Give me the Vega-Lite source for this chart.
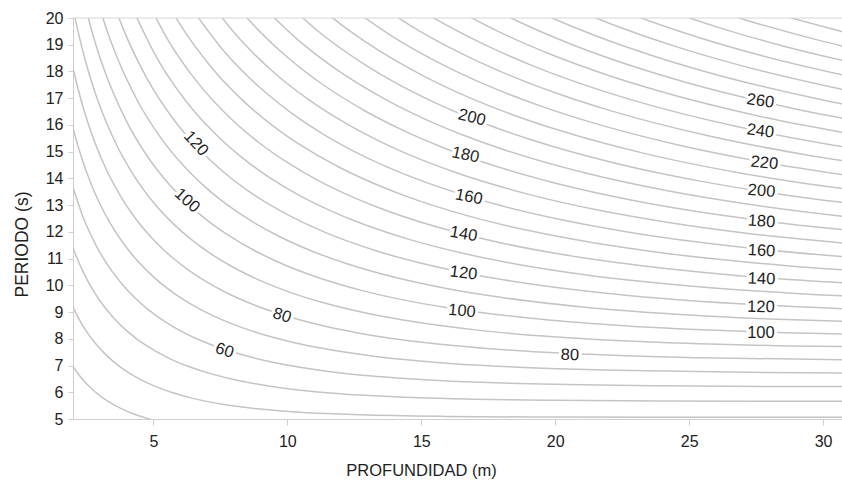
{
"$schema": "https://vega.github.io/schema/vega-lite/v6.json",
"width": 769, "height": 401,
"autosize": {"type": "none"},
"padding": {"left": 73, "top": 18, "right": 0, "bottom": 66},
"background": "white",
"config": {"font": "Liberation Sans", "view": {"stroke": null}},
"datasets": {
"curvas": [
{"L":30,"prof":1.910,"per":7.111},{"L":30,"prof":2.149,"per":6.749},{"L":30,"prof":2.387,"per":6.448},{"L":30,"prof":2.626,"per":6.196},{"L":30,"prof":2.865,"per":5.982},{"L":30,"prof":3.342,"per":5.638},{"L":30,"prof":3.820,"per":5.379},{"L":30,"prof":4.297,"per":5.180},{"L":30,"prof":4.775,"per":5.023},{"L":30,"prof":5.730,"per":4.801},
{"L":40,"prof":1.910,"per":9.378},{"L":40,"prof":2.228,"per":8.727},{"L":40,"prof":2.546,"per":8.211},{"L":40,"prof":2.865,"per":7.793},{"L":40,"prof":3.183,"per":7.446},{"L":40,"prof":3.501,"per":7.155},{"L":40,"prof":3.820,"per":6.907},{"L":40,"prof":4.456,"per":6.511},{"L":40,"prof":5.093,"per":6.212},{"L":40,"prof":5.730,"per":5.981},{"L":40,"prof":6.366,"per":5.800},{"L":40,"prof":7.639,"per":5.543},{"L":40,"prof":8.913,"per":5.379},{"L":40,"prof":10.186,"per":5.272},{"L":40,"prof":11.459,"per":5.202},{"L":40,"prof":12.732,"per":5.155},{"L":40,"prof":15.916,"per":5.096},{"L":40,"prof":19.099,"per":5.074},{"L":40,"prof":25.465,"per":5.063},{"L":40,"prof":41.380,"per":5.062},
{"L":50,"prof":1.592,"per":12.738},{"L":50,"prof":1.989,"per":11.435},{"L":50,"prof":2.387,"per":10.485},{"L":50,"prof":2.785,"per":9.757},{"L":50,"prof":3.183,"per":9.181},{"L":50,"prof":3.581,"per":8.713},{"L":50,"prof":3.979,"per":8.324},{"L":50,"prof":4.377,"per":7.999},{"L":50,"prof":4.775,"per":7.722},{"L":50,"prof":5.570,"per":7.279},{"L":50,"prof":6.366,"per":6.945},{"L":50,"prof":7.162,"per":6.687},{"L":50,"prof":7.958,"per":6.485},{"L":50,"prof":9.549,"per":6.198},{"L":50,"prof":11.141,"per":6.014},{"L":50,"prof":12.732,"per":5.894},{"L":50,"prof":14.324,"per":5.816},{"L":50,"prof":15.915,"per":5.764},{"L":50,"prof":19.894,"per":5.697},{"L":50,"prof":23.873,"per":5.673},{"L":50,"prof":31.831,"per":5.661},
{"L":60,"prof":1.910,"per":13.954},{"L":60,"prof":2.387,"per":12.526},{"L":60,"prof":2.865,"per":11.486},{"L":60,"prof":3.342,"per":10.688},{"L":60,"prof":3.820,"per":10.057},{"L":60,"prof":4.297,"per":9.544},{"L":60,"prof":4.775,"per":9.119},{"L":60,"prof":5.252,"per":8.762},{"L":60,"prof":5.730,"per":8.459},{"L":60,"prof":6.685,"per":7.974},{"L":60,"prof":7.639,"per":7.607},{"L":60,"prof":8.594,"per":7.325},{"L":60,"prof":9.549,"per":7.104},{"L":60,"prof":11.459,"per":6.789},{"L":60,"prof":13.369,"per":6.588},{"L":60,"prof":15.279,"per":6.457},{"L":60,"prof":17.189,"per":6.371},{"L":60,"prof":19.099,"per":6.314},{"L":60,"prof":23.873,"per":6.241},{"L":60,"prof":28.648,"per":6.215},{"L":60,"prof":38.197,"per":6.201},
{"L":70,"prof":1.783,"per":16.810},{"L":70,"prof":2.005,"per":15.867},{"L":70,"prof":2.228,"per":15.072},{"L":70,"prof":2.785,"per":13.530},{"L":70,"prof":3.342,"per":12.406},{"L":70,"prof":3.899,"per":11.545},{"L":70,"prof":4.456,"per":10.862},{"L":70,"prof":5.013,"per":10.309},{"L":70,"prof":5.570,"per":9.849},{"L":70,"prof":6.128,"per":9.465},{"L":70,"prof":6.685,"per":9.137},{"L":70,"prof":7.799,"per":8.613},{"L":70,"prof":8.913,"per":8.217},{"L":70,"prof":10.027,"per":7.912},{"L":70,"prof":11.141,"per":7.673},{"L":70,"prof":13.369,"per":7.333},{"L":70,"prof":15.597,"per":7.116},{"L":70,"prof":17.825,"per":6.974},{"L":70,"prof":20.053,"per":6.881},{"L":70,"prof":22.282,"per":6.820},{"L":70,"prof":27.852,"per":6.741},{"L":70,"prof":33.422,"per":6.713},
{"L":80,"prof":1.783,"per":19.193},{"L":80,"prof":2.037,"per":17.971},{"L":80,"prof":2.292,"per":16.963},{"L":80,"prof":2.546,"per":16.112},{"L":80,"prof":3.183,"per":14.464},{"L":80,"prof":3.820,"per":13.263},{"L":80,"prof":4.456,"per":12.342},{"L":80,"prof":5.093,"per":11.613},{"L":80,"prof":5.730,"per":11.021},{"L":80,"prof":6.366,"per":10.530},{"L":80,"prof":7.003,"per":10.118},{"L":80,"prof":7.639,"per":9.768},{"L":80,"prof":8.913,"per":9.207},{"L":80,"prof":10.186,"per":8.785},{"L":80,"prof":11.459,"per":8.458},{"L":80,"prof":12.732,"per":8.202},{"L":80,"prof":15.279,"per":7.840},{"L":80,"prof":17.825,"per":7.608},{"L":80,"prof":20.372,"per":7.456},{"L":80,"prof":22.918,"per":7.356},{"L":80,"prof":25.465,"per":7.290},{"L":80,"prof":31.831,"per":7.207},
{"L":90,"prof":1.719,"per":21.970},{"L":90,"prof":2.005,"per":20.357},{"L":90,"prof":2.292,"per":19.061},{"L":90,"prof":2.578,"per":17.991},{"L":90,"prof":2.865,"per":17.090},{"L":90,"prof":3.581,"per":15.341},{"L":90,"prof":4.297,"per":14.067},{"L":90,"prof":5.013,"per":13.091},{"L":90,"prof":5.730,"per":12.317},{"L":90,"prof":6.446,"per":11.689},{"L":90,"prof":7.162,"per":11.168},{"L":90,"prof":7.878,"per":10.732},{"L":90,"prof":8.594,"per":10.360},{"L":90,"prof":10.027,"per":9.766},{"L":90,"prof":11.459,"per":9.317},{"L":90,"prof":12.892,"per":8.971},{"L":90,"prof":14.324,"per":8.700},{"L":90,"prof":17.189,"per":8.315},{"L":90,"prof":20.053,"per":8.069},{"L":90,"prof":22.918,"per":7.908},{"L":90,"prof":25.783,"per":7.803},{"L":90,"prof":28.648,"per":7.733},{"L":90,"prof":35.810,"per":7.644},
{"L":100,"prof":2.228,"per":21.458},{"L":100,"prof":2.546,"per":20.092},{"L":100,"prof":2.865,"per":18.965},{"L":100,"prof":3.183,"per":18.014},{"L":100,"prof":3.979,"per":16.171},{"L":100,"prof":4.775,"per":14.828},{"L":100,"prof":5.570,"per":13.799},{"L":100,"prof":6.366,"per":12.983},{"L":100,"prof":7.162,"per":12.321},{"L":100,"prof":7.958,"per":11.772},{"L":100,"prof":8.754,"per":11.312},{"L":100,"prof":9.549,"per":10.921},{"L":100,"prof":11.141,"per":10.294},{"L":100,"prof":12.732,"per":9.821},{"L":100,"prof":14.324,"per":9.456},{"L":100,"prof":15.916,"per":9.171},{"L":100,"prof":19.099,"per":8.765},{"L":100,"prof":22.282,"per":8.506},{"L":100,"prof":25.465,"per":8.336},{"L":100,"prof":28.648,"per":8.225},{"L":100,"prof":31.831,"per":8.151},
{"L":110,"prof":2.801,"per":21.073},{"L":110,"prof":3.151,"per":19.890},{"L":110,"prof":3.501,"per":18.893},{"L":110,"prof":4.377,"per":16.960},{"L":110,"prof":5.252,"per":15.552},{"L":110,"prof":6.127,"per":14.472},{"L":110,"prof":7.003,"per":13.617},{"L":110,"prof":7.878,"per":12.923},{"L":110,"prof":8.754,"per":12.347},{"L":110,"prof":9.629,"per":11.864},{"L":110,"prof":10.504,"per":11.454},{"L":110,"prof":12.255,"per":10.797},{"L":110,"prof":14.006,"per":10.301},{"L":110,"prof":15.756,"per":9.918},{"L":110,"prof":17.507,"per":9.618},{"L":110,"prof":21.008,"per":9.193},{"L":110,"prof":24.510,"per":8.921},{"L":110,"prof":28.011,"per":8.743},{"L":110,"prof":31.513,"per":8.626},
{"L":120,"prof":3.438,"per":20.775},{"L":120,"prof":3.820,"per":19.733},{"L":120,"prof":4.775,"per":17.714},{"L":120,"prof":5.730,"per":16.243},{"L":120,"prof":6.685,"per":15.116},{"L":120,"prof":7.639,"per":14.222},{"L":120,"prof":8.594,"per":13.497},{"L":120,"prof":9.549,"per":12.896},{"L":120,"prof":10.504,"per":12.392},{"L":120,"prof":11.459,"per":11.963},{"L":120,"prof":13.369,"per":11.277},{"L":120,"prof":15.279,"per":10.759},{"L":120,"prof":17.189,"per":10.359},{"L":120,"prof":19.099,"per":10.046},{"L":120,"prof":22.918,"per":9.601},{"L":120,"prof":26.738,"per":9.317},{"L":120,"prof":30.558,"per":9.132},{"L":120,"prof":34.377,"per":9.010},
{"L":130,"prof":4.138,"per":20.539},{"L":130,"prof":5.173,"per":18.438},{"L":130,"prof":6.207,"per":16.907},{"L":130,"prof":7.242,"per":15.733},{"L":130,"prof":8.276,"per":14.803},{"L":130,"prof":9.311,"per":14.049},{"L":130,"prof":10.345,"per":13.423},{"L":130,"prof":11.380,"per":12.898},{"L":130,"prof":12.414,"per":12.452},{"L":130,"prof":14.483,"per":11.737},{"L":130,"prof":16.552,"per":11.198},{"L":130,"prof":18.621,"per":10.782},{"L":130,"prof":20.690,"per":10.456},{"L":130,"prof":24.828,"per":9.993},{"L":130,"prof":28.966,"per":9.698},{"L":130,"prof":33.104,"per":9.505},
{"L":140,"prof":4.456,"per":21.314},{"L":140,"prof":5.570,"per":19.134},{"L":140,"prof":6.685,"per":17.545},{"L":140,"prof":7.799,"per":16.327},{"L":140,"prof":8.913,"per":15.362},{"L":140,"prof":10.027,"per":14.579},{"L":140,"prof":11.141,"per":13.929},{"L":140,"prof":12.255,"per":13.385},{"L":140,"prof":13.369,"per":12.922},{"L":140,"prof":15.597,"per":12.180},{"L":140,"prof":17.825,"per":11.621},{"L":140,"prof":20.054,"per":11.189},{"L":140,"prof":22.282,"per":10.851},{"L":140,"prof":26.738,"per":10.371},{"L":140,"prof":31.194,"per":10.064},
{"L":150,"prof":4.775,"per":22.062},{"L":150,"prof":5.968,"per":19.805},{"L":150,"prof":7.162,"per":18.161},{"L":150,"prof":8.356,"per":16.900},{"L":150,"prof":9.549,"per":15.901},{"L":150,"prof":10.743,"per":15.091},{"L":150,"prof":11.937,"per":14.418},{"L":150,"prof":13.130,"per":13.855},{"L":150,"prof":14.324,"per":13.375},{"L":150,"prof":16.711,"per":12.608},{"L":150,"prof":19.099,"per":12.029},{"L":150,"prof":21.486,"per":11.582},{"L":150,"prof":23.873,"per":11.232},{"L":150,"prof":28.648,"per":10.735},{"L":150,"prof":33.422,"per":10.417},
{"L":160,"prof":6.366,"per":20.455},{"L":160,"prof":7.639,"per":18.756},{"L":160,"prof":8.913,"per":17.454},{"L":160,"prof":10.186,"per":16.423},{"L":160,"prof":11.459,"per":15.585},{"L":160,"prof":12.732,"per":14.891},{"L":160,"prof":14.006,"per":14.309},{"L":160,"prof":15.279,"per":13.814},{"L":160,"prof":17.825,"per":13.021},{"L":160,"prof":20.372,"per":12.423},{"L":160,"prof":22.918,"per":11.961},{"L":160,"prof":25.465,"per":11.600},{"L":160,"prof":30.558,"per":11.087},{"L":160,"prof":35.651,"per":10.759},
{"L":170,"prof":6.764,"per":21.084},{"L":170,"prof":8.117,"per":19.333},{"L":170,"prof":9.470,"per":17.991},{"L":170,"prof":10.823,"per":16.928},{"L":170,"prof":12.175,"per":16.065},{"L":170,"prof":13.528,"per":15.349},{"L":170,"prof":14.881,"per":14.749},{"L":170,"prof":16.234,"per":14.239},{"L":170,"prof":18.939,"per":13.422},{"L":170,"prof":21.645,"per":12.805},{"L":170,"prof":24.351,"per":12.330},{"L":170,"prof":27.056,"per":11.957},{"L":170,"prof":32.468,"per":11.428},
{"L":180,"prof":7.162,"per":21.696},{"L":180,"prof":8.594,"per":19.894},{"L":180,"prof":10.027,"per":18.513},{"L":180,"prof":11.459,"per":17.419},{"L":180,"prof":12.892,"per":16.531},{"L":180,"prof":14.324,"per":15.794},{"L":180,"prof":15.756,"per":15.177},{"L":180,"prof":17.189,"per":14.652},{"L":180,"prof":20.054,"per":13.811},{"L":180,"prof":22.918,"per":13.177},{"L":180,"prof":25.783,"per":12.687},{"L":180,"prof":28.648,"per":12.304},{"L":180,"prof":34.377,"per":11.759},
{"L":190,"prof":9.072,"per":20.439},{"L":190,"prof":10.584,"per":19.020},{"L":190,"prof":12.096,"per":17.896},{"L":190,"prof":13.608,"per":16.984},{"L":190,"prof":15.120,"per":16.227},{"L":190,"prof":16.632,"per":15.593},{"L":190,"prof":18.144,"per":15.053},{"L":190,"prof":21.168,"per":14.190},{"L":190,"prof":24.192,"per":13.538},{"L":190,"prof":27.215,"per":13.035},{"L":190,"prof":30.239,"per":12.641},{"L":190,"prof":36.287,"per":12.082},
{"L":200,"prof":9.549,"per":20.970},{"L":200,"prof":11.141,"per":19.514},{"L":200,"prof":12.732,"per":18.361},{"L":200,"prof":14.324,"per":17.425},{"L":200,"prof":15.916,"per":16.649},{"L":200,"prof":17.507,"per":15.998},{"L":200,"prof":19.099,"per":15.444},{"L":200,"prof":22.282,"per":14.558},{"L":200,"prof":25.465,"per":13.889},{"L":200,"prof":28.648,"per":13.373},{"L":200,"prof":31.831,"per":12.969},
{"L":210,"prof":10.027,"per":21.488},{"L":210,"prof":11.698,"per":19.997},{"L":210,"prof":13.369,"per":18.815},{"L":210,"prof":15.040,"per":17.856},{"L":210,"prof":16.711,"per":17.060},{"L":210,"prof":18.382,"per":16.393},{"L":210,"prof":20.054,"per":15.826},{"L":210,"prof":23.396,"per":14.918},{"L":210,"prof":26.738,"per":14.233},{"L":210,"prof":30.080,"per":13.704},{"L":210,"prof":33.423,"per":13.290},
{"L":220,"prof":12.255,"per":20.467},{"L":220,"prof":14.006,"per":19.257},{"L":220,"prof":15.756,"per":18.276},{"L":220,"prof":17.507,"per":17.461},{"L":220,"prof":19.258,"per":16.779},{"L":220,"prof":21.008,"per":16.198},{"L":220,"prof":24.510,"per":15.269},{"L":220,"prof":28.011,"per":14.567},{"L":220,"prof":31.513,"per":14.026},
{"L":230,"prof":12.812,"per":20.927},{"L":230,"prof":14.642,"per":19.690},{"L":230,"prof":16.473,"per":18.687},{"L":230,"prof":18.303,"per":17.854},{"L":230,"prof":20.133,"per":17.156},{"L":230,"prof":21.963,"per":16.563},{"L":230,"prof":25.624,"per":15.612},{"L":230,"prof":29.284,"per":14.895},{"L":230,"prof":32.945,"per":14.341},
{"L":240,"prof":13.369,"per":21.377},{"L":240,"prof":15.279,"per":20.114},{"L":240,"prof":17.189,"per":19.088},{"L":240,"prof":19.099,"per":18.238},{"L":240,"prof":21.008,"per":17.525},{"L":240,"prof":22.918,"per":16.919},{"L":240,"prof":26.738,"per":15.948},{"L":240,"prof":30.558,"per":15.215},{"L":240,"prof":34.377,"per":14.650},
{"L":250,"prof":15.915,"per":20.528},{"L":250,"prof":17.905,"per":19.482},{"L":250,"prof":19.894,"per":18.614},{"L":250,"prof":21.884,"per":17.886},{"L":250,"prof":23.873,"per":17.268},{"L":250,"prof":27.852,"per":16.277},{"L":250,"prof":31.831,"per":15.529},
{"L":260,"prof":16.552,"per":20.935},{"L":260,"prof":18.621,"per":19.868},{"L":260,"prof":20.690,"per":18.982},{"L":260,"prof":22.759,"per":18.241},{"L":260,"prof":24.828,"per":17.609},{"L":260,"prof":28.966,"per":16.599},{"L":260,"prof":33.104,"per":15.836},
{"L":270,"prof":17.189,"per":21.334},{"L":270,"prof":19.337,"per":20.246},{"L":270,"prof":21.486,"per":19.344},{"L":270,"prof":23.634,"per":18.588},{"L":270,"prof":25.783,"per":17.945},{"L":270,"prof":30.080,"per":16.915},{"L":270,"prof":34.377,"per":16.138},
{"L":280,"prof":20.054,"per":20.618},{"L":280,"prof":22.282,"per":19.699},{"L":280,"prof":24.510,"per":18.929},{"L":280,"prof":26.738,"per":18.274},{"L":280,"prof":31.194,"per":17.226},
{"L":290,"prof":20.770,"per":20.983},{"L":290,"prof":23.077,"per":20.048},{"L":290,"prof":25.385,"per":19.264},{"L":290,"prof":27.693,"per":18.598},{"L":290,"prof":32.308,"per":17.530},
{"L":300,"prof":23.873,"per":20.390},{"L":300,"prof":26.261,"per":19.594},{"L":300,"prof":28.648,"per":18.916},{"L":300,"prof":33.422,"per":17.830},
{"L":310,"prof":24.669,"per":20.727},{"L":310,"prof":27.136,"per":19.917},{"L":310,"prof":29.603,"per":19.228},{"L":310,"prof":34.537,"per":18.125},
{"L":320,"prof":25.465,"per":21.059},{"L":320,"prof":28.011,"per":20.236},{"L":320,"prof":30.558,"per":19.536},{"L":320,"prof":35.651,"per":18.415}
],
"etiquetas": [
{"n":1,"txt":"120","prof":6.59,"per":15.31},
{"n":2,"txt":"100","prof":6.26,"per":13.17},
{"n":3,"txt":"80","prof":9.80,"per":8.87},
{"n":4,"txt":"60","prof":7.66,"per":7.56},
{"n":5,"txt":"200","prof":16.89,"per":16.28},
{"n":6,"txt":"180","prof":16.65,"per":14.88},
{"n":7,"txt":"160","prof":16.78,"per":13.31},
{"n":8,"txt":"140","prof":16.58,"per":11.92},
{"n":9,"txt":"120","prof":16.58,"per":10.46},
{"n":10,"txt":"100","prof":16.52,"per":9.04},
{"n":11,"txt":"80","prof":20.55,"per":7.39},
{"n":12,"txt":"260","prof":27.66,"per":16.90},
{"n":13,"txt":"240","prof":27.66,"per":15.77},
{"n":14,"txt":"220","prof":27.81,"per":14.58},
{"n":15,"txt":"200","prof":27.70,"per":13.53},
{"n":16,"txt":"180","prof":27.70,"per":12.39},
{"n":17,"txt":"160","prof":27.70,"per":11.29},
{"n":18,"txt":"140","prof":27.70,"per":10.24},
{"n":19,"txt":"120","prof":27.68,"per":9.19},
{"n":20,"txt":"100","prof":27.68,"per":8.22}
],
"borde": [{"prof":2,"per":20},{"prof":30.705,"per":20}]
},
"encoding": {
"x": {"field": "prof", "type": "quantitative",
"scale": {"domain": [2, 30.705], "nice": false, "zero": false},
"axis": {"title": "PROFUNDIDAD (m)", "values": [5, 10, 15, 20, 25, 30], "grid": false,
"domainColor": "#cfcfcf", "tickColor": "#cfcfcf", "tickSize": 6, "labelPadding": 8,
"labelFontSize": 16, "labelColor": "#222222", "titleFontSize": 16.5, "titleFontWeight": "normal",
"titleColor": "#1e1e1e", "titleX": 348, "titleY": 51, "titleBaseline": "middle"}},
"y": {"field": "per", "type": "quantitative",
"scale": {"domain": [5, 20], "nice": false, "zero": false},
"axis": {"title": "PERIODO (s)", "values": [5,6,7,8,9,10,11,12,13,14,15,16,17,18,19,20], "grid": false,
"domainColor": "#cfcfcf", "tickColor": "#cfcfcf", "tickSize": 5, "labelPadding": 5,
"labelFontSize": 16, "labelColor": "#222222", "titleFontSize": 17.5, "titleFontWeight": "normal",
"titleColor": "#1e1e1e", "titleX": -51, "titleY": 226, "titleBaseline": "middle"}}
},
"layer": [
{
"data": {"name": "curvas"},
"mark": {"type": "line", "clip": true, "interpolate": "monotone", "color": "#c4c4c4", "strokeWidth": 1.5},
"encoding": {"detail": {"field": "L", "type": "nominal"}}
},
{
"data": {"name": "borde"},
"mark": {"type": "line", "color": "#d6d6d6", "strokeWidth": 1},
"encoding": {}
},
{
"data": {"name": "etiquetas"},
"mark": {"type": "text", "fill": "white", "stroke": "white", "strokeWidth": 6, "strokeJoin": "round", "fontSize": 16.5, "align": "center", "baseline": "middle"},
"encoding": {
"text": {"field": "txt"},
"angle": {"field": "n", "type": "quantitative", "legend": null, "scale": {"type": "linear",
"domain": [1,2,3,4,5,6,7,8,9,10,11,12,13,14,15,16,17,18,19,20],
"range": [47,42,18,18,14,12,11,10,7,5,2,8,7,6,5,4,3,2,1,0]}}
}
},
{
"data": {"name": "etiquetas"},
"mark": {"type": "text", "fill": "#1e1e1e", "fontSize": 16.5, "align": "center", "baseline": "middle"},
"encoding": {
"text": {"field": "txt"},
"angle": {"field": "n", "type": "quantitative", "legend": null, "scale": {"type": "linear",
"domain": [1,2,3,4,5,6,7,8,9,10,11,12,13,14,15,16,17,18,19,20],
"range": [47,42,18,18,14,12,11,10,7,5,2,8,7,6,5,4,3,2,1,0]}}
}
}
]
}
